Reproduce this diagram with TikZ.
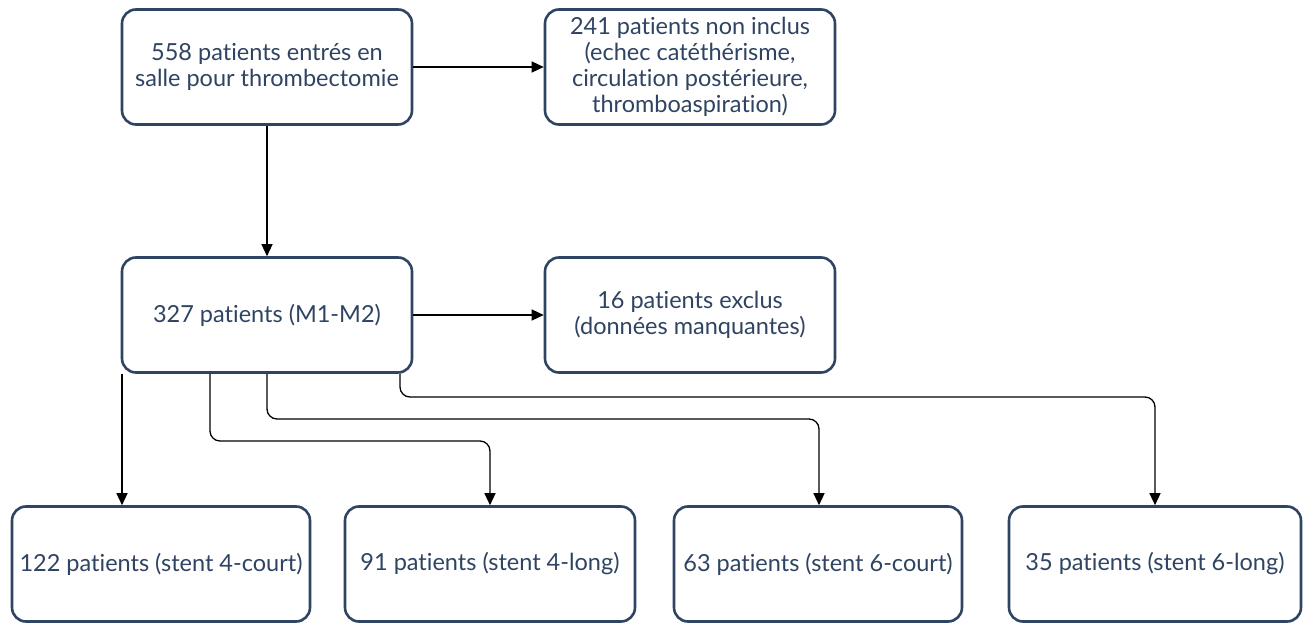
\documentclass[tikz,border=0pt]{standalone}
\usepackage{fontspec}
\setmainfont{Lato}[Ligatures=NoCommon]
\usetikzlibrary{arrows.meta}

\definecolor{boxblue}{HTML}{2F4462}

\begin{document}
\begin{tikzpicture}[
		x=1pt, y=-1pt,
		every node/.style={draw=boxblue, line width=2.6pt, rounded corners=14pt,
			text=boxblue, align=center, font=\fontsize{23.5}{26}\selectfont,
			inner sep=2pt, minimum width=290pt, minimum height=115pt},
		flow/.style={-{Triangle[length=12pt,width=11pt]}, line width=1.3pt, rounded corners=10pt}
		]
		\useasboundingbox (0,0) rectangle (1307,623);
		% top row
		\node (entres) at (267,67) {558 patients entrés en\\salle pour thrombectomie};
		\node (noninclus) at (690,67) {241 patients non inclus\\(echec catéthérisme,\\circulation postérieure,\\thromboaspiration)};
		% middle row
		\node (mdeux) at (267,315) {327 patients (M1-M2)};
		\node (exclus) at (690,315) {16 patients exclus\\(données manquantes)};
		% stent groups
		\node[minimum width=298pt] (qcourt) at (161,564) {122 patients (stent 4-court)};
		\node[minimum width=290pt] (qlong) at (490,564) {91 patients (stent 4-long)};
		\node[minimum width=288pt] (scourt) at (818,564) {63 patients (stent 6-court)};
		\node[minimum width=292pt] (slong) at (1155,564) {35 patients (stent 6-long)};

		\draw[flow] (entres) -- (noninclus);
		\draw[flow] (entres) -- (mdeux);
		\draw[flow] (mdeux) -- (exclus);
		\draw[flow] (mdeux.south -| 122,0) -- (qcourt.north -| 122,0);
		\draw[flow] (mdeux.south -| 210,0) |- (490,441) -- (qlong.north);
		\draw[flow] (mdeux.south) |- (819,419) -- (scourt.north -| 819,0);
		\draw[flow] (mdeux.south -| 400,0) |- (1155,397) -- (slong.north -| 1155,0);
\end{tikzpicture}
\end{document}
